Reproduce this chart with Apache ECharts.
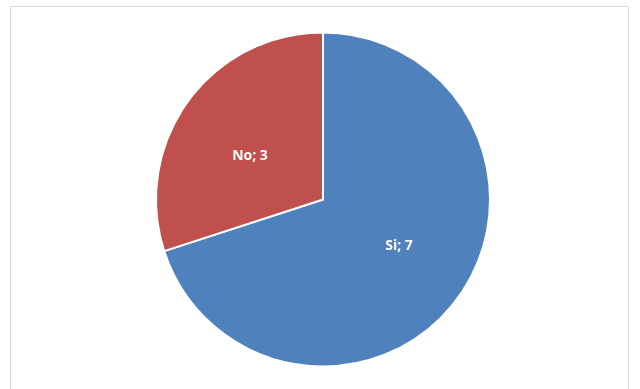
<!DOCTYPE html>
<html><head><meta charset="utf-8">
<script src="https://cdn.jsdelivr.net/npm/echarts@6/dist/echarts.min.js"></script>
<style>html,body{margin:0;padding:0;background:#fff}#c{width:640px;height:389px}</style>
</head><body><div id="c"></div>
<script>
const categories = ["Si", "No"];
const values = [7, 3];
const colors = ["#4F81BD", "#C0504D"];

const chart = echarts.init(document.getElementById('c'), null, {renderer: 'canvas'});
chart.setOption({
  animation: false,
  backgroundColor: '#fff',
  graphic: [{
    type: 'rect', shape: {x: 10.5, y: 6.5, width: 618, height: 400},
    style: {fill: 'none', stroke: '#D9D9D9', lineWidth: 1}, silent: true
  }],
  series: [{
    type: 'pie',
    center: [323, 199.5],
    radius: [0, 167],
    startAngle: 90,
    clockwise: true,
    data: categories.map((c, i) => ({name: c, value: values[i], itemStyle: {color: colors[i]}})),
    itemStyle: {borderColor: '#fff', borderWidth: 2},
    label: {
      position: 'inner',
      formatter: '{b}; {c}',
      color: '#fff',
      fontWeight: 'bold',
      fontSize: 14,
      fontFamily: 'Open Sans, Liberation Sans, sans-serif'
    },
    labelLayout: function (p) {
      return p.dataIndex === 0 ? {dx: 6, dy: -4} : {dx: -3, dy: 7};
    },
    labelLine: {show: false},
    emphasis: {disabled: true}
  }]
});
</script></body></html>
